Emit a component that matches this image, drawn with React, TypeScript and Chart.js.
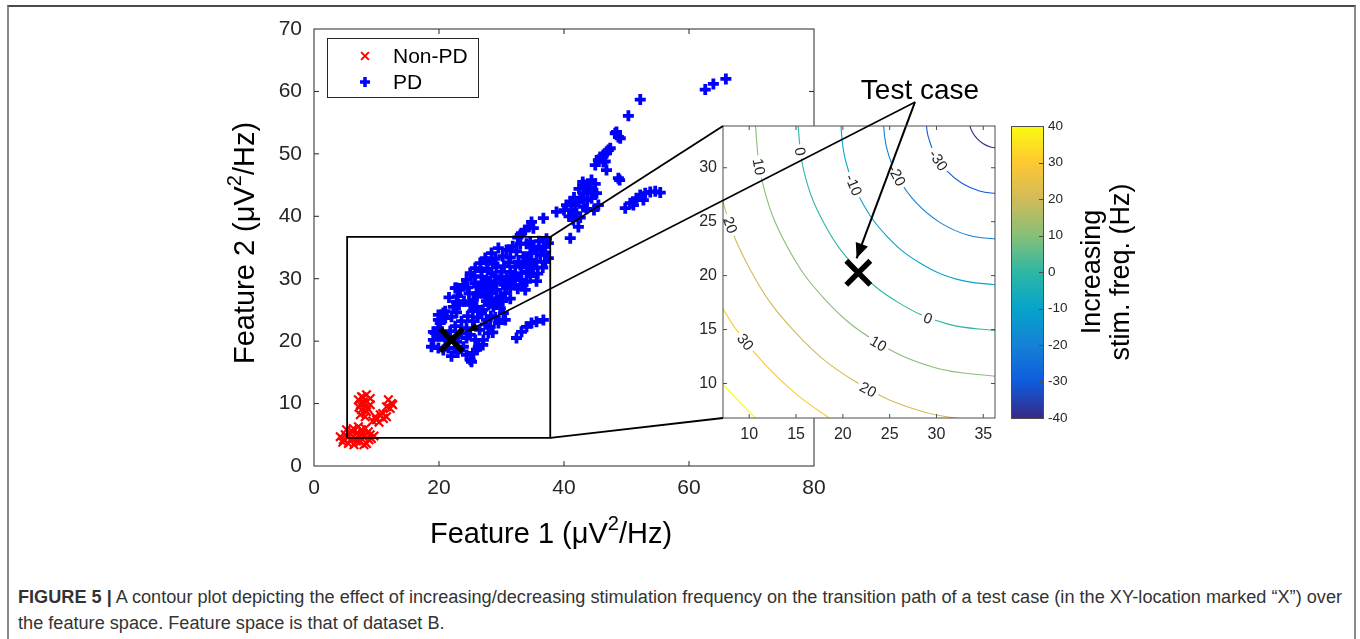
import React, { useEffect, useRef } from "react";
import { Chart, registerables } from "chart.js";

Chart.register(...registerables);

const FONT = '"Liberation Sans", Arial, Helvetica, sans-serif';
const AXIS_COLOR = "#262626";

// ---------------- Main scatter (feature space) ----------------
const mainXTicks = [0, 20, 40, 60, 80];
const mainYTicks = [0, 10, 20, 30, 40, 50, 60, 70];
const seriesNames = ["Non-PD", "PD"];

const nonPdX = [
  7.6, 8.4, 9.0, 7.9, 7.4, 8.2, 7.6, 8.4, 7.4, 8.2, 9.0, 7.1, 11.9, 12.4, 11.6, 12.2, 9.8, 10.6, 11.1, 10.0, 11.6,
  5.0, 4.7, 5.5, 6.3, 6.8, 6.6, 7.6, 7.9, 8.7, 7.4, 8.4, 9.2, 5.8, 5.2, 6.0, 7.1, 8.2, 4.2, 9.0,
  6.0, 6.8, 7.8, 8.8, 5.4, 4.6, 9.6, 6.4, 7.2, 8.0, 8.0, 7.8, 8.6, 7.2, 10.4, 11.0, 12.6, 9.4
];
const nonPdY = [
  11.1, 11.4, 10.8, 10.3, 9.8, 9.5, 9.0, 8.7, 8.2, 7.9, 9.8, 10.6, 10.6, 10.0, 9.5, 9.2, 7.9, 8.2, 7.6, 7.4, 7.9,
  5.0, 4.2, 3.6, 6.0, 5.2, 4.4, 5.8, 4.7, 5.5, 3.9, 3.6, 4.4, 5.2, 5.8, 4.4, 6.3, 6.0, 4.7, 5.0,
  5.6, 4.0, 5.2, 4.2, 4.6, 3.8, 4.8, 3.4, 4.8, 3.4, 10.0, 11.0, 9.2, 9.4, 7.0, 8.4, 9.8, 7.2
];

const pdX = [
  62.6, 63.9, 65.9, 52.2, 50.3, 48.4, 48.7, 49.0, 48.2, 47.4, 46.8, 47.1, 46.3, 45.8, 45.5, 45.0, 46.3, 46.6, 46.8, 48.7, 48.9,
  44.4, 43.4, 43.9, 45.2, 43.1, 42.6, 42.0, 41.0, 40.4, 41.2, 42.0, 41.5, 42.3, 41.0, 43.1, 44.4, 45.5, 43.7, 44.7,
  38.8, 36.7, 34.8, 34.3, 33.8, 33.0, 35.1, 33.2, 34.6, 35.1,
  49.8, 50.6, 51.1, 51.6, 52.2, 52.7, 53.0, 53.8, 55.4, 54.6,
  41.6, 42.4, 43.0, 40.0, 40.8, 41.8, 44.0, 45.0, 43.6, 44.8, 42.6,
  29.5, 28.4, 27.4, 26.6, 25.8, 25.0, 24.4, 23.9, 23.4, 22.6, 22.8, 22.3, 22.0, 21.0, 20.2, 19.9, 19.4, 19.1, 18.8, 19.9,
  21.0, 23.6, 24.4, 25.0, 25.8, 23.9, 24.4, 25.0, 25.5, 26.3, 27.1, 27.9, 28.2, 27.6, 26.8, 26.0, 25.5, 26.3, 27.1, 28.2,
  29.0, 30.0, 30.8, 31.4, 32.2, 32.7, 33.5, 34.6, 35.6, 36.7, 37.5, 37.5, 37.0, 35.6, 34.0, 33.2, 33.0, 32.2, 31.4, 30.6,
  29.8, 29.0, 28.7, 27.9, 29.8, 30.3, 30.6, 29.5, 30.0, 29.2, 28.4, 27.6, 26.8, 25.8, 26.0, 27.4, 28.4, 29.2, 31.9, 30.8,
  34.0, 34.3, 35.1,
  32.4, 33.2, 34.0, 34.8, 35.6, 36.7,
  22.8, 20.7, 19.9, 19.1, 20.7, 24.4, 22.8, 21.5, 19.9, 20.4, 25.2,
  22.0, 23.0, 26.0, 27.0, 22.5, 20.0, 21.8, 22.6, 23.0, 26.5, 28.6, 27.4,
  21.0, 22.8, 23.6, 24.6, 25.4, 26.2, 27.0, 28.3, 29.0, 25.4, 21.6, 23.0, 24.0, 24.8, 25.0, 27.6, 28.4, 29.4, 30.2, 31.4, 23.2,
  24.6, 26.2, 27.0, 28.0, 29.0, 30.4, 31.2, 32.6, 33.4, 33.8,
  25.6, 26.8, 27.8, 28.8, 30.4, 31.2, 32.0, 33.0, 34.6, 35.8, 36.6, 35.6,
  27.6, 29.0, 30.2, 31.4, 32.4, 33.8, 34.8, 36.2, 37.0, 30.8, 31.8,
  33.0, 34.0, 36.0, 37.2, 32.6
];
const pdY = [
  60.3, 61.2, 62.0, 58.7, 56.1, 53.5, 52.7, 52.5, 53.3, 50.9, 50.1, 50.6, 49.8, 49.5, 49.0, 48.2, 48.7, 48.8, 47.4, 46.1, 45.8,
  45.8, 45.0, 44.2, 43.7, 43.7, 42.9, 42.3, 42.3, 41.8, 41.0, 40.5, 39.4, 38.3, 36.5, 41.5, 42.9, 41.8, 42.6, 43.7,
  40.7, 39.7, 39.1, 38.3, 37.8, 37.0, 38.1, 37.3, 35.9, 35.1,
  41.3, 42.1, 41.8, 42.9, 43.4, 42.6, 43.7, 43.9, 43.8, 44.0,
  43.0, 44.4, 45.5, 41.0, 40.0, 41.8, 44.6, 45.2, 41.2, 41.0, 39.8,
  34.9, 34.1, 33.3, 32.5, 31.7, 30.9, 29.8, 29.0, 28.2, 28.5, 26.3, 25.5, 23.9, 23.7, 22.9, 22.1, 21.3, 20.2, 19.1, 18.9,
  20.2, 21.3, 22.1, 21.0, 20.2, 19.1, 17.8, 17.0, 18.1, 19.1, 20.2, 21.3, 22.3, 23.4, 24.5, 25.5, 26.6, 27.7, 28.2, 28.7,
  29.3, 29.8, 30.3, 31.1, 31.9, 32.7, 33.5, 34.1, 34.6, 35.1, 35.7, 33.3, 32.7, 32.7, 31.9, 30.9, 29.8, 29.0, 28.5, 27.7,
  27.1, 26.3, 25.5, 25.8, 25.3, 24.5, 23.4, 22.9, 31.1, 31.9, 30.9, 29.8, 30.3, 29.3, 27.7, 27.1, 27.7, 28.2, 29.8, 28.7,
  29.5, 31.1, 31.7,
  20.5, 21.5, 22.3, 22.9, 23.1, 23.4,
  28.5, 24.5, 24.2, 21.5, 18.6, 20.5, 19.9, 18.9, 23.4, 21.5, 16.7,
  17.6, 18.2, 18.6, 19.4, 18.8, 20.8, 21.6, 22.4, 20.6, 21.8, 21.4, 22.7,
  24.8, 24.6, 23.2, 24.0, 23.2, 23.8, 25.0, 24.0, 23.8, 24.8, 27.0, 27.2, 26.4, 27.6, 25.8, 26.4, 26.6, 26.0, 26.4, 26.8, 25.8,
  28.6, 28.8, 29.4, 29.6, 30.4, 29.0, 29.6, 28.4, 29.0, 28.2,
  30.4, 31.2, 31.6, 32.4, 32.0, 32.6, 30.4, 32.2, 30.4, 30.8, 31.8, 29.6,
  32.8, 33.2, 33.6, 33.4, 34.4, 32.4, 33.0, 33.8, 34.2, 34.6, 35.2,
  35.6, 35.6, 36.0, 36.4, 36.6
];

const testCaseMain = { x: 22.0, y: 20.2 };

// zoom window, inset corners and "Test case" anchor, in main-axis units
const zoomBoxX = [5.3, 37.8];
const zoomBoxY = [4.5, 36.7];
const insetCornerX = 65.44;
const insetCornerY = [54.46, 7.69];
const testLabelAnchorMain = { x: 96.2, y: 58.3 };
const arrowTipMain = { x: 24.4, y: 21.5 };

// ---------------- Inset contour plot ----------------
const insetXRange = [7.2, 36.25];
const insetYRange = [6.8, 33.87];
const insetXTicks = [10, 15, 20, 25, 30, 35];
const insetYTicks = [10, 15, 20, 25, 30];
const contourLevels = [-40, -30, -20, -10, 0, 10, 20, 30, 40];

const contourM40 = [[33.40, 34.80], [33.51, 34.03], [33.83, 33.32], [34.34, 32.70], [35.00, 32.23], [35.77, 31.93], [36.60, 31.83]];
const contourM30 = [[28.83, 34.80], [29.10, 32.93], [29.87, 31.20], [31.11, 29.70], [32.72, 28.56], [34.59, 27.84], [36.60, 27.59]];
const contourM20 = [[24.26, 34.80], [24.68, 31.84], [25.91, 29.08], [27.88, 26.71], [30.43, 24.89], [33.41, 23.74], [36.60, 23.35]];
const contourM10 = [[19.69, 34.80], [20.27, 30.74], [21.96, 26.96], [24.64, 23.71], [28.15, 21.21], [32.22, 19.65], [36.60, 19.11]];
const contour0 = [[15.12, 34.80], [15.85, 29.64], [18.00, 24.84], [21.41, 20.71], [25.86, 17.54], [31.04, 15.55], [36.60, 14.87]];
const contourP10 = [[10.55, 34.80], [11.44, 28.55], [14.04, 22.72], [18.18, 17.71], [23.58, 13.87], [29.86, 11.46], [36.60, 10.63]];
const contourP20 = [[5.98, 34.80], [7.03, 27.45], [10.08, 20.60], [14.95, 14.71], [21.29, 10.20], [28.68, 7.36], [36.60, 6.39]];
const contourP30 = [[6.13, 18.48], [8.68, 14.92], [11.72, 11.72], [15.18, 8.90], [19.01, 6.53]];
const contourP40 = [[2.17, 16.36], [6.14, 11.09], [8.49, 8.72], [11.04, 6.54], [16.72, 2.86]];

const contourLabelText = ["0", "10", "-10", "-20", "-30", "20", "30", "0", "10", "20"];
const contourLabelX = [15.45, 11.05, 21.16, 25.78, 30.21, 7.98, 9.6, 29.1, 23.8, 22.7];
const contourLabelY = [31.5, 30.1, 28.4, 29.3, 30.7, 24.7, 13.85, 16.05, 13.7, 9.45];
const contourLabelAngle = [80, 79, 67, 62, 56, 71, 52, 21, 30, 28];

const testCaseInset = { x: 21.65, y: 20.26 };
const testLabelAnchorInset = { x: 27.7, y: 36.09 };
const arrowTipInset = { x: 21.47, y: 21.6 };

// ---------------- Colour bar ----------------
const colorbarRange = [-40, 40];
const colorbarTicks = [-40, -30, -20, -10, 0, 10, 20, 30, 40];
const parula = ["#352A87", "#0F5CDD", "#1481D6", "#06A4CA", "#2EB7A4", "#87BF77", "#D1BB59", "#FEC832", "#F9FB0E"];

// ---------------- plugins ----------------
const boxTicks: any = {
  id: "boxTicks",
  afterDatasetsDraw(chart: any, _a: any, opts: any) {
    if (!opts || !opts.enabled) return;
    const { ctx, chartArea: a, scales } = chart;
    const L = opts.len;
    ctx.save();
    ctx.strokeStyle = opts.color;
    ctx.lineWidth = opts.width;
    ctx.strokeRect(a.left, a.top, a.right - a.left, a.bottom - a.top);
    ctx.beginPath();
    scales.x.ticks.forEach((t: any) => {
      const px = scales.x.getPixelForValue(t.value);
      if (px <= a.left + 1 || px >= a.right - 1) return;
      ctx.moveTo(px, a.bottom); ctx.lineTo(px, a.bottom - L);
      ctx.moveTo(px, a.top); ctx.lineTo(px, a.top + L);
    });
    scales.y.ticks.forEach((t: any) => {
      const py = scales.y.getPixelForValue(t.value);
      if (py <= a.top + 1 || py >= a.bottom - 1) return;
      ctx.moveTo(a.left, py); ctx.lineTo(a.left + L, py);
      ctx.moveTo(a.right, py); ctx.lineTo(a.right - L, py);
    });
    ctx.stroke();
    ctx.restore();
  },
};

const whiteArea: any = {
  id: "whiteArea",
  beforeDatasetsDraw(chart: any, _a: any, opts: any) {
    if (!opts || !opts.enabled) return;
    const { ctx, chartArea: a } = chart;
    ctx.save();
    ctx.fillStyle = "#ffffff";
    ctx.fillRect(a.left, a.top, a.right - a.left, a.bottom - a.top);
    ctx.restore();
  },
};

function drawRich(ctx: any, parts: any[], size: number, color: string) {
  let total = 0;
  const widths = parts.map((p) => {
    ctx.font = `${p.sup ? Math.round(size * 0.68) : size}px ${FONT}`;
    const w = ctx.measureText(p.t).width;
    total += w;
    return w;
  });
  let x = -total / 2;
  ctx.fillStyle = color;
  ctx.textAlign = "left";
  ctx.textBaseline = "middle";
  parts.forEach((p, i) => {
    ctx.font = `${p.sup ? Math.round(size * 0.68) : size}px ${FONT}`;
    ctx.fillText(p.t, x, p.sup ? -size * 0.36 : 0);
    x += widths[i];
  });
}

const textPlugin: any = {
  id: "texts",
  afterDraw(chart: any, _a: any, opts: any) {
    if (!opts || !opts.items) return;
    const ctx = chart.ctx;
    opts.items.forEach((it: any) => {
      ctx.save();
      ctx.translate(it.x, it.y);
      if (it.rot) ctx.rotate((it.rot * Math.PI) / 180);
      drawRich(ctx, it.parts, it.size, it.color || "#000");
      ctx.restore();
    });
  },
};

const arrowPlugin: any = {
  id: "arrowHeads",
  afterDatasetsDraw(chart: any) {
    const ctx = chart.ctx;
    chart.data.datasets.forEach((ds: any, i: number) => {
      if (!ds.arrowHead) return;
      const pts = chart.getDatasetMeta(i).data;
      if (pts.length < 2) return;
      const p1 = pts[pts.length - 2];
      const p2 = pts[pts.length - 1];
      const ang = Math.atan2(p2.y - p1.y, p2.x - p1.x);
      const { len, width } = ds.arrowHead;
      const bx = p2.x - len * Math.cos(ang);
      const by = p2.y - len * Math.sin(ang);
      ctx.save();
      ctx.fillStyle = ds.borderColor;
      ctx.beginPath();
      ctx.moveTo(p2.x, p2.y);
      ctx.lineTo(bx + (width / 2) * Math.sin(ang), by - (width / 2) * Math.cos(ang));
      ctx.lineTo(bx - (width / 2) * Math.sin(ang), by + (width / 2) * Math.cos(ang));
      ctx.closePath();
      ctx.fill();
      ctx.restore();
    });
  },
};

const matLegend: any = {
  id: "matLegend",
  afterDraw(chart: any, _a: any, opts: any) {
    if (!opts || !opts.enabled) return;
    const { ctx, chartArea: a } = chart;
    const x0 = a.left + opts.dx;
    const y0 = a.top + opts.dy;
    ctx.save();
    ctx.fillStyle = "#fff";
    ctx.fillRect(x0, y0, opts.w, opts.h);
    ctx.strokeStyle = AXIS_COLOR;
    ctx.lineWidth = 1;
    ctx.strokeRect(x0 + 0.5, y0 + 0.5, opts.w, opts.h);
    opts.datasetIndexes.forEach((di: number, i: number) => {
      const ds = chart.data.datasets[di];
      const cy = y0 + opts.rowTop + i * opts.rowH;
      const cx = x0 + opts.markX;
      const r = opts.markR[i];
      ctx.strokeStyle = ds.pointBorderColor;
      ctx.lineWidth = opts.markW[i];
      ctx.beginPath();
      if (ds.pointStyle === "crossRot") {
        const o = r * Math.SQRT1_2;
        ctx.moveTo(cx - o, cy - o); ctx.lineTo(cx + o, cy + o);
        ctx.moveTo(cx - o, cy + o); ctx.lineTo(cx + o, cy - o);
      } else {
        ctx.moveTo(cx - r, cy); ctx.lineTo(cx + r, cy);
        ctx.moveTo(cx, cy - r); ctx.lineTo(cx, cy + r);
      }
      ctx.stroke();
      ctx.fillStyle = "#000";
      ctx.font = `${opts.fontSize}px ${FONT}`;
      ctx.textAlign = "left";
      ctx.textBaseline = "middle";
      ctx.fillText(ds.label, x0 + opts.textX, cy + 1);
    });
    ctx.restore();
  },
};

const contourLabels: any = {
  id: "contourLabels",
  afterDatasetDraw(chart: any, args: any) {
    const ds = chart.data.datasets[args.index];
    if (!ds || !ds.labelsAfter) return;
    const { ctx, chartArea: a, scales } = chart;
    ctx.save();
    ctx.beginPath();
    ctx.rect(a.left, a.top, a.right - a.left, a.bottom - a.top);
    ctx.clip();
    ctx.font = `15px ${FONT}`;
    ctx.textAlign = "center";
    ctx.textBaseline = "middle";
    contourLabelText.forEach((t, i) => {
      const px = scales.x.getPixelForValue(contourLabelX[i]);
      const py = scales.y.getPixelForValue(contourLabelY[i]);
      ctx.save();
      ctx.translate(px, py);
      ctx.rotate((contourLabelAngle[i] * Math.PI) / 180);
      const w = ctx.measureText(t).width + 6;
      ctx.fillStyle = "#fff";
      ctx.fillRect(-w / 2, -8, w, 16);
      ctx.fillStyle = AXIS_COLOR;
      ctx.fillText(t, 0, 1);
      ctx.restore();
    });
    ctx.restore();
  },
};

const colorbarFrame: any = {
  id: "cbFrame",
  afterDatasetsDraw(chart: any) {
    const { ctx, chartArea: a, scales } = chart;
    ctx.save();
    ctx.strokeStyle = "#4d4d4d";
    ctx.lineWidth = 1;
    ctx.strokeRect(a.left + 0.5, a.top + 0.5, a.right - a.left, a.bottom - a.top);
    ctx.beginPath();
    scales.y.ticks.forEach((t: any) => {
      const py = Math.round(scales.y.getPixelForValue(t.value)) + 0.5;
      ctx.moveTo(a.right, py);
      ctx.lineTo(a.right - 4, py);
    });
    ctx.stroke();
    ctx.restore();
  },
};

const pts = (xs: number[], ys: number[]) => xs.map((x, i) => ({ x, y: ys[i] }));
const pairs = (arr: number[][]) => arr.map(([x, y]) => ({ x, y }));
const tickFont = (size: number) => ({ family: FONT, size });

export default function App() {
  const mainRef = useRef<HTMLCanvasElement>(null);
  const insetRef = useRef<HTMLCanvasElement>(null);
  const cbRef = useRef<HTMLCanvasElement>(null);
  const overlayRef = useRef<HTMLCanvasElement>(null);

  useEffect(() => {
    const charts: Chart[] = [];
    const common: any = {
      responsive: false,
      animation: false,
      devicePixelRatio: 1,
      events: [],
    };
    const make = (el: any, cfg: any) => {
      try {
        charts.push(new Chart(el, cfg));
      } catch (e) {
        console.error(e);
      }
    };

    // ---- main scatter ----
    make(mainRef.current, {
      type: "scatter",
      data: {
        datasets: [
          {
            label: seriesNames[0],
            data: pts(nonPdX, nonPdY),
            pointStyle: "crossRot",
            pointRadius: 6,
            pointBorderWidth: 2.2,
            pointBorderColor: "#ff0000",
            borderColor: "#ff0000",
            backgroundColor: "#ff0000",
            order: 2,
          },
          {
            label: seriesNames[1],
            data: pts(pdX, pdY),
            pointStyle: "cross",
            pointRadius: 5.5,
            pointBorderWidth: 3.8,
            pointBorderColor: "#0000ff",
            borderColor: "#0000ff",
            backgroundColor: "#0000ff",
            order: 1,
          },
          {
            label: "Test case",
            data: [testCaseMain],
            pointStyle: "crossRot",
            pointRadius: 16,
            pointBorderWidth: 5.5,
            pointBorderColor: "#000",
            borderColor: "#000",
            order: 0,
          },
        ],
      },
      options: {
        ...common,
        layout: { padding: { left: 200, top: 29, right: 546, bottom: 0 } },
        scales: {
          x: {
            type: "linear",
            min: mainXTicks[0],
            max: mainXTicks[mainXTicks.length - 1],
            afterBuildTicks: (s: any) => { s.ticks = mainXTicks.map((v) => ({ value: v })); },
            afterFit: (s: any) => { s.height = 94; },
            grid: { display: false, drawTicks: false },
            border: { display: false },
            ticks: { padding: 10, color: AXIS_COLOR, font: tickFont(21), maxRotation: 0, autoSkip: false },
          },
          y: {
            type: "linear",
            min: mainYTicks[0],
            max: mainYTicks[mainYTicks.length - 1],
            afterBuildTicks: (s: any) => { s.ticks = mainYTicks.map((v) => ({ value: v })); },
            afterFit: (s: any) => { s.width = 114; },
            grid: { display: false, drawTicks: false },
            border: { display: false },
            ticks: { padding: 12, color: AXIS_COLOR, font: tickFont(21), autoSkip: false },
          },
        },
        plugins: {
          legend: { display: false },
          tooltip: { enabled: false },
          boxTicks: { enabled: true, color: AXIS_COLOR, width: 1, len: 5 },
          matLegend: {
            enabled: true, dx: 13, dy: 9, w: 151, h: 59, markX: 38, rowTop: 18, rowH: 26, textX: 66, fontSize: 21,
            datasetIndexes: [0, 1], markR: [5.5, 5], markW: [2, 3.5],
          },
          texts: {
            items: [
              { x: 551, y: 535, size: 29, color: "#000", parts: [{ t: "Feature 1 (μV" }, { t: "2", sup: true }, { t: "/Hz)" }] },
              { x: 246, y: 243, rot: -90, size: 29, color: "#000", parts: [{ t: "Feature 2 (μV" }, { t: "2", sup: true }, { t: "/Hz)" }] },
            ],
          },
        },
      },
      plugins: [boxTicks, matLegend, textPlugin],
    });

    // ---- inset contour plot ----
    const contourSets = [contourM40, contourM30, contourM20, contourM10, contour0, contourP10, contourP20, contourP30, contourP40];
    const contourDatasets = contourLevels.map((lv, i) => ({
      label: String(lv),
      data: pairs(contourSets[i]),
      showLine: true,
      pointRadius: 0,
      borderWidth: 1.1,
      borderColor: parula[i],
      tension: 0.4,
      order: 10,
      labelsAfter: i === 0,
    }));
    make(insetRef.current, {
      type: "scatter",
      data: {
        datasets: [
          ...contourDatasets,
          {
            label: "Test case",
            data: [testCaseInset],
            pointStyle: "crossRot",
            pointRadius: 17,
            pointBorderWidth: 5.5,
            pointBorderColor: "#000",
            borderColor: "#000",
            order: 1,
          },
          {
            label: "pointer",
            data: [testLabelAnchorInset, arrowTipInset],
            showLine: true,
            pointRadius: 0,
            borderWidth: 2,
            borderColor: "#000",
            clip: false,
            order: 1,
            arrowHead: { len: 15, width: 13 },
          },
        ],
      },
      options: {
        ...common,
        layout: { padding: { left: 0, top: 36, right: 45, bottom: 0 } },
        scales: {
          x: {
            type: "linear",
            min: insetXRange[0],
            max: insetXRange[1],
            afterBuildTicks: (s: any) => { s.ticks = insetXTicks.map((v) => ({ value: v })); },
            afterFit: (s: any) => { s.height = 42; },
            grid: { display: false, drawTicks: false },
            border: { display: false },
            ticks: { padding: 7, color: AXIS_COLOR, font: tickFont(16), maxRotation: 0, autoSkip: false },
          },
          y: {
            type: "linear",
            min: insetYRange[0],
            max: insetYRange[1],
            afterBuildTicks: (s: any) => { s.ticks = insetYTicks.map((v) => ({ value: v })); },
            afterFit: (s: any) => { s.width = 43; },
            grid: { display: false, drawTicks: false },
            border: { display: false },
            ticks: { padding: 6, color: AXIS_COLOR, font: tickFont(16), autoSkip: false },
          },
        },
        plugins: {
          legend: { display: false },
          tooltip: { enabled: false },
          whiteArea: { enabled: true },
          boxTicks: { enabled: true, color: "#4d4d4d", width: 1, len: 4 },
        },
      },
      plugins: [whiteArea, contourLabels, boxTicks, arrowPlugin],
    });

    // ---- colour bar ----
    const gradientFill = (c: any) => {
      const ch = c.chart;
      const y = ch.scales && ch.scales.y;
      const a = ch.chartArea;
      if (!y || !a) return parula[4];
      const y0 = y.getPixelForValue(colorbarRange[0]);
      const y1 = y.getPixelForValue(colorbarRange[1]);
      if (!isFinite(y0) || !isFinite(y1) || y0 === y1) return parula[4];
      const g = ch.ctx.createLinearGradient(0, y0, 0, y1);
      parula.forEach((col, i) => g.addColorStop(i / (parula.length - 1), col));
      return g;
    };
    make(cbRef.current, {
      type: "bar",
      data: {
        labels: [""],
        datasets: [
          {
            data: [colorbarRange],
            borderWidth: 0,
            barPercentage: 1,
            categoryPercentage: 1,
            backgroundColor: gradientFill,
          },
        ],
      },
      options: {
        ...common,
        layout: { padding: { left: 11, top: 26, right: 0, bottom: 32 } },
        scales: {
          x: { display: false },
          y: {
            position: "right",
            min: colorbarRange[0],
            max: colorbarRange[1],
            afterBuildTicks: (s: any) => { s.ticks = colorbarTicks.map((v) => ({ value: v })); },
            afterFit: (s: any) => { s.width = 107; },
            grid: { display: false, drawTicks: false },
            border: { display: false },
            ticks: { padding: 5, color: AXIS_COLOR, font: tickFont(13.5), autoSkip: false },
          },
        },
        plugins: {
          legend: { display: false },
          tooltip: { enabled: false },
          texts: {
            items: [
              { x: 93, y: 172, rot: -90, size: 27, color: "#000", parts: [{ t: "Increasing" }] },
              { x: 122, y: 172, rot: -90, size: 27, color: "#000", parts: [{ t: "stim. freq. (Hz)" }] },
            ],
          },
        },
      },
      plugins: [colorbarFrame, textPlugin],
    });

    // ---- overlay: zoom box, connectors, test-case pointer ----
    make(overlayRef.current, {
      type: "scatter",
      data: {
        datasets: [
          {
            label: "zoom box",
            data: [
              { x: zoomBoxX[0], y: zoomBoxY[0] },
              { x: zoomBoxX[1], y: zoomBoxY[0] },
              { x: zoomBoxX[1], y: zoomBoxY[1] },
              { x: zoomBoxX[0], y: zoomBoxY[1] },
              { x: zoomBoxX[0], y: zoomBoxY[0] },
            ],
          },
          { label: "upper link", data: [{ x: zoomBoxX[1], y: zoomBoxY[1] }, { x: insetCornerX, y: insetCornerY[0] }] },
          { label: "lower link", data: [{ x: zoomBoxX[1], y: zoomBoxY[0] }, { x: insetCornerX, y: insetCornerY[1] }] },
          { label: "pointer", data: [testLabelAnchorMain, arrowTipMain], borderWidth: 1.5, arrowHead: { len: 12, width: 9 } },
        ].map((d: any) => ({
          showLine: true,
          pointRadius: 0,
          borderWidth: 1.8,
          borderColor: "#000",
          clip: false,
          tension: 0,
          ...d,
        })),
      },
      options: {
        ...common,
        layout: { padding: { left: 314, top: 29, right: 546, bottom: 94 } },
        scales: {
          x: { type: "linear", display: false, min: mainXTicks[0], max: mainXTicks[mainXTicks.length - 1] },
          y: { type: "linear", display: false, min: mainYTicks[0], max: mainYTicks[mainYTicks.length - 1] },
        },
        plugins: {
          legend: { display: false },
          tooltip: { enabled: false },
          texts: { items: [{ x: 920, y: 91, size: 28, color: "#000", parts: [{ t: "Test case" }] }] },
        },
      },
      plugins: [arrowPlugin, textPlugin],
    });

    return () => charts.forEach((c) => c.destroy());
  }, []);

  return (
    <div style={{ position: "absolute", left: 0, top: 0, width: 1360, height: 639, background: "#fff", overflow: "hidden" }}>
      <div
        style={{
          position: "absolute",
          left: 7,
          top: 5,
          width: 1349,
          height: 700,
          boxSizing: "border-box",
          border: "2px solid #8a8a8a",
          borderTopColor: "#4a4a4a",
        }}
      />
      <canvas ref={mainRef} width={1360} height={560} style={{ position: "absolute", left: 0, top: 0 }} />
      <canvas ref={insetRef} width={360} height={370} style={{ position: "absolute", left: 680, top: 90 }} />
      <canvas ref={cbRef} width={150} height={350} style={{ position: "absolute", left: 1000, top: 100 }} />
      <canvas ref={overlayRef} width={1360} height={560} style={{ position: "absolute", left: 0, top: 0 }} />
      <div
        style={{
          position: "absolute",
          left: 18,
          top: 584,
          fontFamily: FONT,
          fontSize: 18.15,
          lineHeight: "26px",
          color: "#333",
          whiteSpace: "nowrap",
        }}
      >
        <b>FIGURE 5 |</b> A contour plot depicting the effect of increasing/decreasing stimulation frequency on the transition path of a test case (in the XY-location marked “X”) over
        <br />
        the feature space. Feature space is that of dataset B.
      </div>
    </div>
  );
}
